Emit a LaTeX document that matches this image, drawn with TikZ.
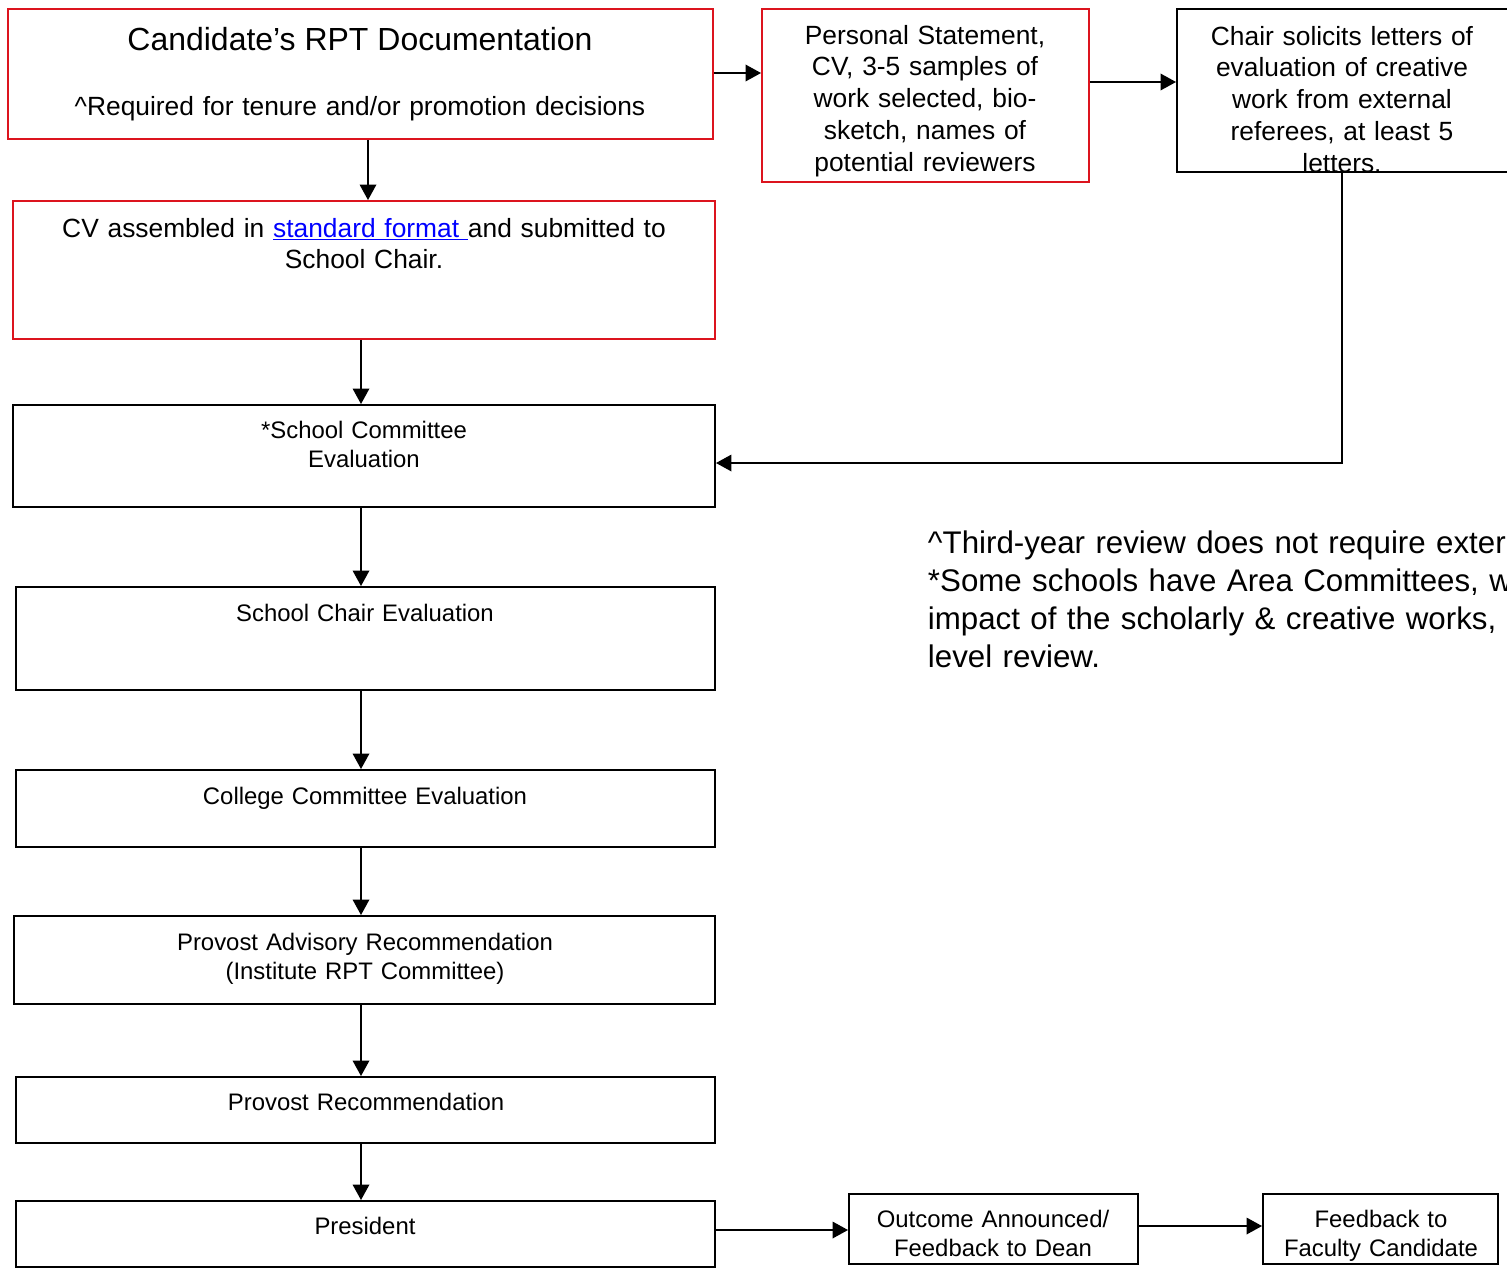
\documentclass[tikz,border=0pt]{standalone}
\usepackage{fontspec}
\setmainfont{Liberation Sans}
\usetikzlibrary{arrows.meta,fit}
\definecolor{RPTred}{RGB}{220,20,30}
\definecolor{linkblue}{RGB}{0,0,255}
\tikzset{>={Triangle[length=3.1mm,width=3.3mm]}}

\begin{document}
\begin{tikzpicture}[x=0.02cm,y=-0.02cm,line width=1.1pt,
		redbox/.style={draw=RPTred,inner sep=0pt},
		blkbox/.style={draw,inner sep=0pt},
		titletxt/.style={anchor=base,inner sep=0pt,font=\fontsize{18.2}{21}\selectfont},
		uppertxt/.style={anchor=base,inner sep=0pt,align=center,text width=#1,font=\fontsize{15}{18.2}\selectfont},
		lowertxt/.style={anchor=base,inner sep=0pt,align=center,text width=#1,font=\fontsize{13.6}{16.6}\selectfont},
		notetxt/.style={anchor=base west,inner sep=0pt,align=left,text width=20cm,font=\fontsize{17.8}{21.8}\selectfont}]
			% \draw[help lines,step=100] (0,0) grid (1507,1268);
			\useasboundingbox (0,0) rectangle (1507,1268);
			\node[redbox,fit={(8,9) (713,139)}] (doc) {};
			\node[redbox,fit={(762,9) (1089,182)}] (papers) {};
			\node[blkbox,fit={(1177,9) (1508,172)}] (letters) {};
			\node[redbox,fit={(13,201) (715,339)}] (cv) {};
			\node[blkbox,fit={(13,405) (715,507)}] (schoolcom) {};
			\node[blkbox,fit={(16,587) (715,690)}] (schoolchair) {};
			\node[blkbox,fit={(16,770) (715,847)}] (collegecom) {};
			\node[blkbox,fit={(14,916) (715,1004)}] (provadv) {};
			\node[blkbox,fit={(16,1077) (715,1143)}] (provost) {};
			\node[blkbox,fit={(16,1201) (715,1267)}] (president) {};
			\node[blkbox,fit={(849,1194) (1138,1264)}] (outcome) {};
			\node[blkbox,fit={(1263,1194) (1498,1264)}] (feedback) {};
			% texts
			\node[titletxt] (docA) at (360,50) {Candidate’s RPT Documentation};
			\node[uppertxt=13cm] (docB) at (360,115) {\textasciicircum Required for tenure and/or promotion decisions};
			\node[uppertxt=13cm] (cvT) at (364,237) {CV assembled in \textcolor{linkblue}{\underline{standard format\ }}and submitted to\\School Chair.};
			\node[uppertxt=6cm] (papersT) at (925,44) {Personal Statement,\\CV, 3-5 samples of\\work selected, bio-\\sketch, names of\\potential reviewers};
			\node[uppertxt=6cm] (lettersT) at (1342,45) {Chair solicits letters of\\evaluation of creative\\work from external\\referees, at least 5\\letters.};
			\node[lowertxt=13cm] (schoolcomT) at (364,438) {*School Committee\\Evaluation};
			\node[lowertxt=13cm] (schoolchairT) at (365,621) {School Chair Evaluation};
			\node[lowertxt=13cm] (collegecomT) at (365,804) {College Committee Evaluation};
			\node[lowertxt=13cm] (provadvT) at (365,950) {Provost Advisory Recommendation\\(Institute RPT Committee)};
			\node[lowertxt=13cm] (provostT) at (366,1110) {Provost Recommendation};
			\node[lowertxt=13cm] (presidentT) at (365,1234) {President};
			\node[lowertxt=5.6cm] (outcomeT) at (993,1227) {Outcome Announced/\\Feedback to Dean};
			\node[lowertxt=4.6cm] (feedbackT) at (1381,1227) {Feedback to\\Faculty Candidate};
			\node[notetxt] (remark) at (927,553) {\textasciicircum Third-year review does not require exter\\{}*Some schools have Area Committees, w\\impact of the scholarly \& creative works,\\level review.};
			% arrows
			\draw[->] (doc.east |- 0,73) -- (papers.west |- 0,73);
			\draw[->] (papers.east |- 0,82) -- (letters.west |- 0,82);
			\draw[->] (doc.south -| 368,0) -- (cv.north -| 368,0);
			\draw[->] (cv.south -| 361,0) -- (schoolcom.north -| 361,0);
			\draw[->] (letters.south -| 1342,0) |- (schoolcom.east |- 0,463);
			\foreach \a/\b in {schoolcom/schoolchair,schoolchair/collegecom,collegecom/provadv,provadv/provost,provost/president}{
				\draw[->] (\a.south -| 361,0) -- (\b.north -| 361,0);
			}
			\draw[->] (president.east |- 0,1230) -- (outcome.west |- 0,1230);
			\draw[->] (outcome.east |- 0,1226) -- (feedback.west |- 0,1226);
		\end{tikzpicture}
\end{document}
